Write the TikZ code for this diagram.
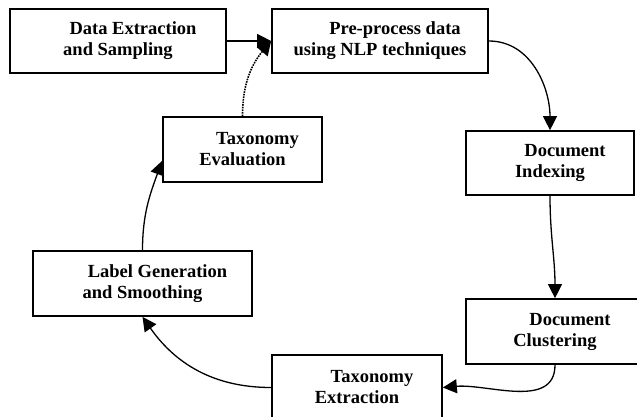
\documentclass[tikz,border=0pt]{standalone}
\usepackage{fontspec}
\setmainfont{Liberation Serif}
\usetikzlibrary{arrows.meta}
\tikzset{
  tx/.style={x=1pt, y=-1pt, font=\bfseries\fontsize{18.5}{21}\selectfont},
  t box/.style={draw, line width=1.7pt, align=center, inner sep=0pt},
  t arr/.style={line width=1.3pt, -{Triangle[length=14pt, width=14pt]}},
  t back/.style={t arr, line width=1.6pt, densely dotted},
}
\newcommand{\firstpad}{\hspace*{30pt}}

\begin{document}
\begin{tikzpicture}[tx]
\useasboundingbox (0,0) rectangle (637,416);
% ---- top row ----
\node[t box, minimum width=216pt, minimum height=64pt] (dex) at (118, 41) {\firstpad Data Extraction\\and Sampling};
\node[t box, minimum width=216pt, minimum height=64pt] (pre) at (380, 41) {\firstpad Pre-process data\\using NLP techniques};
% ---- right column ----
\node[t box, minimum width=168pt, minimum height=64pt] (idx) at (550, 163) {\firstpad Document\\Indexing};
\node[t box, minimum width=178pt, minimum height=65pt] (clu) at (555, 331.5) {\firstpad Document\\Clustering};
% ---- bottom and left ----
\node[t box, minimum width=170pt, minimum height=65pt] (ext) at (357, 387.5) {\firstpad Taxonomy\\Extraction};
\node[t box, minimum width=219pt, minimum height=65pt] (lab) at (142.5, 283.5) {\firstpad Label Generation\\and Smoothing};
\node[t box, minimum width=159pt, minimum height=65pt] (eva) at (242.5, 149.5) {\firstpad Taxonomy\\Evaluation};
% ---- cycle ----
\draw[t arr] (dex) -- (pre);
\draw[t arr] (pre.east) to[out=0, in=90] (idx.north);
\draw[t arr] (idx.south) to[out=-90, in=90] (clu.north);
\draw[t arr] (clu.south) to[out=-90, in=5] (ext.east);
\draw[t arr] (ext.west) to[out=180, in=-55] (lab.south);
\draw[t arr] (lab.north) to[out=90, in=-110] (eva.188);
\draw[t back] (eva.north) to[out=90, in=-130] (pre.west);
\end{tikzpicture}
\end{document}
